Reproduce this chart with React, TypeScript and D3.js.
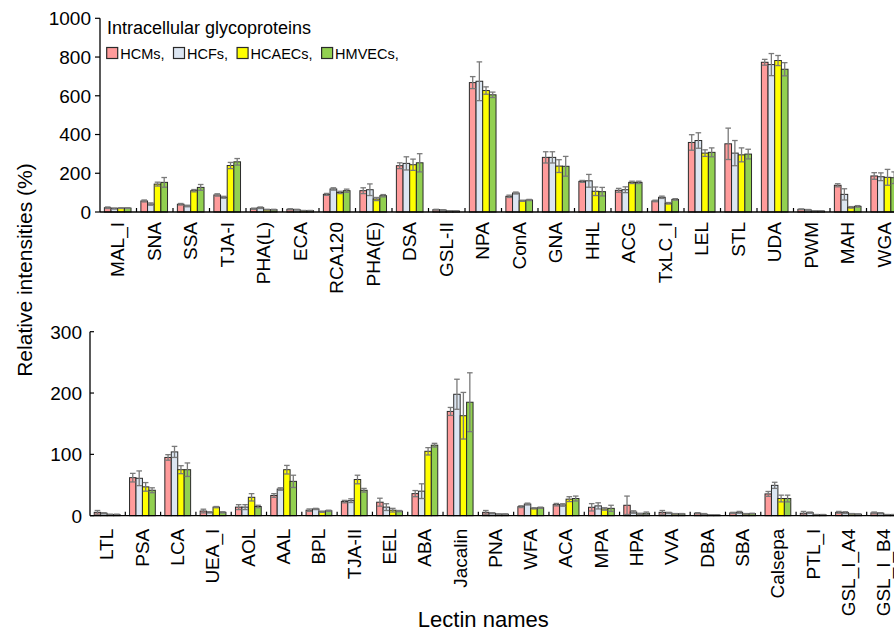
import React from "react";
import * as d3 from "d3";

const series = ["HCMs", "HCFs", "HCAECs", "HMVECs"];
const seriesColors = ["#FF9B9B", "#DCE6F2", "#FFFF00", "#92D050"];

const topCats = ["MAL_I","SNA","SSA","TJA-I","PHA(L)","ECA","RCA120","PHA(E)","DSA","GSL-II","NPA","ConA","GNA","HHL","ACG","TxLC_I","LEL","STL","UDA","PWM","MAH","WGA"];
const topHCMs = [22, 57, 40, 88, 17, 14, 91, 110, 239, 12, 668, 81, 282, 158, 112, 57, 359, 352, 773, 14, 138, 186];
const topHCFs = [18, 41, 31, 76, 22, 12, 119, 115, 251, 10, 675, 98, 282, 161, 115, 76, 369, 304, 761, 11, 91, 182];
const topHCAECs = [20, 144, 110, 240, 12, 7, 101, 67, 244, 5, 627, 58, 237, 107, 153, 45, 304, 295, 782, 5, 24, 179];
const topHMVECs = [20, 153, 127, 259, 12, 7, 110, 84, 254, 5, 605, 62, 236, 105, 153, 65, 308, 299, 737, 5, 29, 177];
const topErrHCMs = [4, 5, 4, 6, 3, 3, 5, 15, 15, 2, 31, 6, 29, 5, 10, 4, 40, 81, 15, 2, 8, 17];
const topErrHCFs = [3, 6, 4, 5, 4, 2, 6, 30, 34, 2, 100, 5, 29, 33, 15, 6, 40, 65, 57, 2, 29, 20];
const topErrHCAECs = [2, 10, 6, 16, 2, 1, 6, 8, 29, 1, 19, 3, 33, 22, 6, 4, 17, 36, 26, 1, 4, 41];
const topErrHMVECs = [2, 25, 15, 17, 2, 1, 8, 6, 47, 1, 14, 3, 51, 22, 6, 4, 23, 25, 34, 1, 4, 30];
const topTicks = [0, 200, 400, 600, 800, 1000];

const botCats = ["LTL","PSA","LCA","UEA_I","AOL","AAL","BPL","TJA-II","EEL","ABA","Jacalin","PNA","WFA","ACA","MPA","HPA","VVA","DBA","SBA","Calsepa","PTL_I","GSL_I_A4","GSL_I_B4"];
const botHCMs = [5.5, 62, 95, 7.6, 14, 33, 9, 23, 22, 36, 170, 5.5, 14.7, 18, 13.7, 17, 5.5, 4, 4.5, 35.5, 4, 5.5, 4.5];
const botHCFs = [4, 61, 104, 5.5, 14, 43.5, 11, 24.5, 14, 40, 198, 4, 19, 17.5, 16, 6, 4.5, 2.5, 5.5, 49.5, 5, 5, 4];
const botHCAECs = [2, 47, 75, 14, 30, 75, 6.5, 59, 9, 105, 163, 2.5, 12, 27, 11, 3, 3, 1, 3, 28, 1.5, 3, 1.5];
const botHMVECs = [2, 41.5, 75, 5.5, 15, 56, 8, 41.5, 7.5, 115, 185, 2.5, 13, 28, 12, 4, 3, 1, 3.5, 28, 1.5, 2.5, 1.5];
const botErrHCMs = [3, 7, 4.5, 3, 4, 3, 2, 2, 6.5, 5, 6.5, 3, 1.5, 2, 6, 15, 3, 1, 1, 4, 3, 1.5, 1.5];
const botErrHCFs = [1, 12, 9, 1, 4, 2, 1, 3, 5.5, 12, 24.5, 1, 1.5, 2, 5, 2, 1, 1, 1.5, 5, 1, 1.5, 1];
const botErrHCAECs = [0.5, 7, 6.5, 1, 6, 7, 1, 7, 3, 6, 38, 0.5, 1, 4, 2, 1, 0.5, 0.5, 0.5, 5.5, 0.5, 0.5, 0.5];
const botErrHMVECs = [0.5, 4, 11, 1, 2, 10, 1, 3, 1, 3, 48, 0.5, 1, 4, 5, 2, 0.5, 0.5, 0.5, 5.5, 0.5, 0.5, 0.5];
const botTicks = [0, 100, 200, 300];

const titleText = "Intracellular glycoproteins";
const yTitle = "Relative intensities (%)";
const xTitle = "Lectin names";

const FONT = "'Liberation Sans', Arial, Helvetica, sans-serif";

// approximate Arial advance widths (em) for legend layout
const charW: Record<string, number> = { H: 0.722, C: 0.722, M: 0.833, F: 0.611, A: 0.667, E: 0.667, V: 0.667, s: 0.5, ",": 0.278 };
function textWidth(s: string, size: number) {
  let w = 0;
  for (const ch of s) w += (charW[ch] ?? 0.556) * size;
  return w;
}

type PanelProps = {
  cats: string[];
  values: number[][];
  errors: number[][];
  ticks: number[];
  x0: number;
  x1: number;
  yTop: number;
  yBottom: number;
  tickOutward: boolean;
  labelOffset: number;
  tickLabelGap: number;
};

function Panel(p: PanelProps) {
  const x = d3.scaleBand<string>().domain(p.cats).range([p.x0, p.x1]).paddingInner(0).paddingOuter(0);
  const y = d3.scaleLinear().domain([0, p.ticks[p.ticks.length - 1]]).range([p.yBottom, p.yTop]);
  const bw = x.bandwidth();
  const inner = d3.scaleBand<string>().domain(series).range([bw * 0.12, bw * 0.85]).paddingInner(0);
  const w = inner.bandwidth();
  const tickLen = 4;
  return (
    <g>
      {p.cats.map((c, i) => (
        <g key={c} transform={`translate(${x(c)},0)`}>
          {series.map((s, j) => {
            const v = p.values[j][i];
            const bx = inner(s)!;
            return (
              <rect key={s} x={bx} y={y(v)} width={w} height={p.yBottom - y(v)}
                fill={seriesColors[j]} stroke="#2a2a2a" strokeWidth={1} />
            );
          })}
          {series.map((s, j) => {
            const v = p.values[j][i];
            const e = p.errors[j][i];
            const cx = inner(s)! + w / 2;
            const yt = y(v + e);
            const yb = y(Math.max(0, v - e));
            return (
              <g key={"e" + s} stroke="#7a7a7a" strokeWidth={1.3}>
                <line x1={cx} x2={cx} y1={yt} y2={yb} />
                <line x1={cx - 2.8} x2={cx + 2.8} y1={yt} y2={yt} />
                <line x1={cx - 2.8} x2={cx + 2.8} y1={yb} y2={yb} />
              </g>
            );
          })}
        </g>
      ))}
      <line x1={p.x0} x2={p.x1} y1={p.yBottom} y2={p.yBottom} stroke="#000" strokeWidth={1.3} />
      {p.cats.map((c, i) =>
        i === 0 ? null : (
          <line key={"xt" + c} x1={x(c)} x2={x(c)} y1={p.yBottom} y2={p.yBottom - tickLen} stroke="#000" strokeWidth={1.2} />
        )
      )}
      {p.cats.map((c) => (
        <text key={"xl" + c}
          transform={`translate(${x(c)! + bw / 2 - 1},${p.yBottom + p.labelOffset}) rotate(-90)`}
          textAnchor="end" dy="0.36em" fontSize={19} fontFamily={FONT} fill="#000">
          {c}
        </text>
      ))}
      <line x1={p.x0} x2={p.x0} y1={p.yTop} y2={p.yBottom} stroke="#000" strokeWidth={1.3} />
      {p.ticks.map((t) => (
        <g key={"yt" + t}>
          <line x1={p.tickOutward ? p.x0 - 5 : p.x0} x2={p.tickOutward ? p.x0 : p.x0 + 4}
            y1={y(t)} y2={y(t)} stroke="#000" strokeWidth={1.2} />
          <text x={p.x0 - p.tickLabelGap} y={y(t)} dy="0.36em" textAnchor="end" fontSize={19} fontFamily={FONT} fill="#000">
            {t}
          </text>
        </g>
      ))}
    </g>
  );
}

export default function App() {
  const legendFont = 14.5;
  const legendItems: { s: string; x: number; color: string }[] = [];
  let lx = 106.7;
  series.forEach((s, j) => {
    legendItems.push({ s, x: lx, color: seriesColors[j] });
    lx += 13.5 + textWidth(s + ",", legendFont) + 9;
  });
  return (
    <svg width={894} height={633} style={{ position: "absolute", left: 0, top: 0, background: "#fff" }}
      viewBox="0 0 894 633">
      <rect x={0} y={0} width={894} height={633} fill="#fff" />
      <Panel cats={topCats}
        values={[topHCMs, topHCFs, topHCAECs, topHMVECs]}
        errors={[topErrHCMs, topErrHCFs, topErrHCAECs, topErrHMVECs]}
        ticks={topTicks} x0={100} x1={903} yTop={18.3} yBottom={212}
        tickOutward={true} labelOffset={10} tickLabelGap={9} />
      <Panel cats={botCats}
        values={[botHCMs, botHCFs, botHCAECs, botHMVECs]}
        errors={[botErrHCMs, botErrHCFs, botErrHCAECs, botErrHMVECs]}
        ticks={botTicks} x0={90} x1={902} yTop={331.7} yBottom={515.7}
        tickOutward={false} labelOffset={13} tickLabelGap={8} />
      <text x={107} y={34.3} fontSize={18} fontFamily={FONT} fill="#000">{titleText}</text>
      {legendItems.map((it) => (
        <g key={"lg" + it.s}>
          <rect x={it.x} y={47.5} width={11} height={11} fill={it.color} stroke="#2a2a2a" strokeWidth={1.2} />
          <text x={it.x + 13.5} y={59.3} fontSize={legendFont} fontFamily={FONT} fill="#000">{it.s + ","}</text>
        </g>
      ))}
      <text transform="translate(31.5,270) rotate(-90)" textAnchor="middle" fontSize={21} fontFamily={FONT} fill="#000">{yTitle}</text>
      <text x={483.3} y={626.7} textAnchor="middle" fontSize={22} fontFamily={FONT} fill="#000">{xTitle}</text>
    </svg>
  );
}
